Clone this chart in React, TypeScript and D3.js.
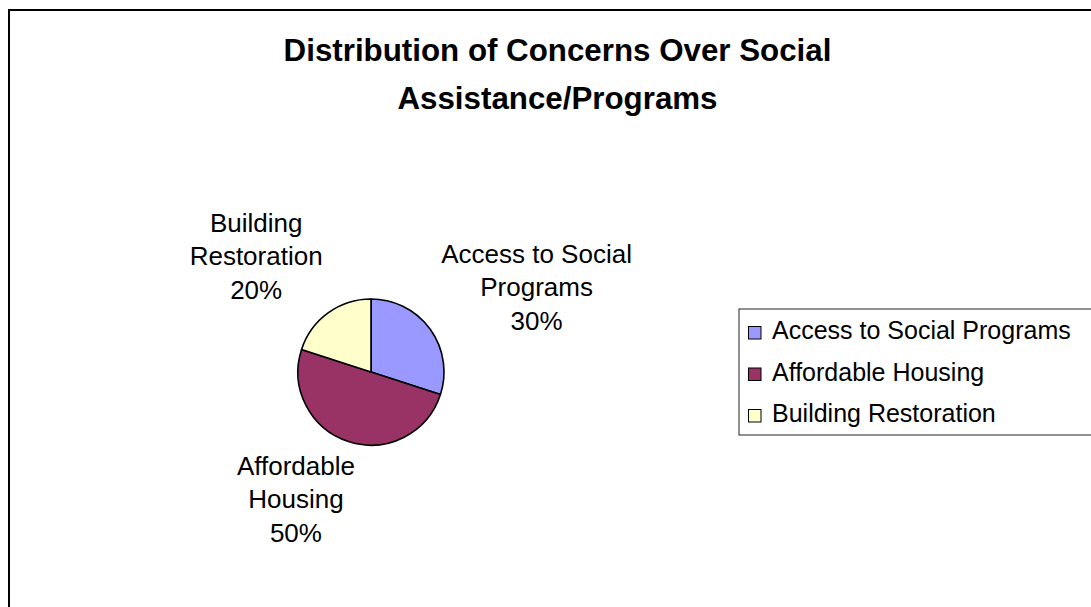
import React from "react";
import * as d3 from "d3";

const categories = ["Access to Social Programs", "Affordable Housing", "Building Restoration"];
const values = [30, 50, 20];
const labelLines = [
  ["Access to Social", "Programs"],
  ["Affordable", "Housing"],
  ["Building", "Restoration"],
];
const colors = ["#9999FF", "#993366", "#FFFFCC"];
const titleLines = ["Distribution of Concerns Over Social", "Assistance/Programs"];

const W = 1091;
const H = 607;
const FONT = "'Liberation Sans', Arial, Helvetica, sans-serif";

// layout
const cx = 371;
const cy = 372;
const r = 73;
const labelRadius = 175;
const labelNudge = [
  [24, 17],
  [-21, -40],
  [-12, 25],
];
const labelLineH = 33.5;

export default function App() {
  const total = d3.sum(values);
  const pie = d3.pie<number>().sort(null).value((d) => d)(values);
  const arc = d3.arc<d3.PieArcDatum<number>>().innerRadius(0).outerRadius(r);
  const labelArc = d3
    .arc<d3.PieArcDatum<number>>()
    .innerRadius(labelRadius)
    .outerRadius(labelRadius);
  const fmt = d3.format(".0%");

  const legendX = 739;
  const legendY = 309;
  const legendBase = d3.scalePoint<number>().domain(d3.range(categories.length)).range([339, 422]);

  return (
    <svg
      width={W}
      height={H}
      style={{ position: "absolute", left: 0, top: 0, display: "block", background: "#fff" }}
      fontFamily={FONT}
    >
      <rect x={9} y={10} width={W + 10} height={H + 10} fill="#fff" stroke="#000" strokeWidth={2} />
      {titleLines.map((t, i) => (
        <text key={i} x={557.5} y={61 + i * 48} textAnchor="middle" fontSize={31.3} fontWeight="bold" fill="#000">
          {t}
        </text>
      ))}
      <g transform={`translate(${cx},${cy})`}>
        {pie.map((p, i) => (
          <path key={i} d={arc(p) || ""} fill={colors[i]} stroke="#000" strokeWidth={1.6} strokeLinejoin="round" />
        ))}
        {pie.map((p, i) => {
          const [lx, ly] = labelArc.centroid(p);
          const x = lx + labelNudge[i][0];
          const midY = ly + labelNudge[i][1];
          const lines = [...labelLines[i], fmt(values[i] / total)];
          const firstBase = midY + 10 - labelLineH;
          return (
            <text key={i} x={x} textAnchor="middle" fontSize={26} fill="#000">
              {lines.map((l, j) => (
                <tspan key={j} x={x} y={firstBase + j * labelLineH}>
                  {l}
                </tspan>
              ))}
            </text>
          );
        })}
      </g>
      <rect x={legendX} y={legendY} width={W} height={126} fill="#fff" stroke="#222" strokeWidth={1} />
      {categories.map((c, i) => {
        const base = legendBase(i)!;
        return (
          <g key={i}>
            <rect x={748.5} y={base - 12.5} width={12.5} height={12.5} fill={colors[i]} stroke="#000" strokeWidth={1} />
            <text x={772} y={base} fontSize={25} fill="#000">
              {c}
            </text>
          </g>
        );
      })}
    </svg>
  );
}
